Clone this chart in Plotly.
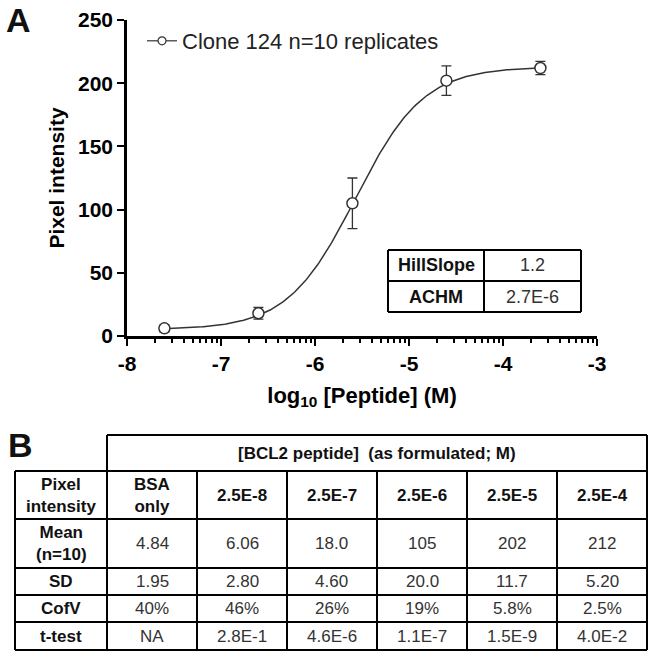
import numpy as np
import plotly.graph_objects as go

W, H = 652, 655
FONT = "Liberation Sans, Arial, sans-serif"

# ---------------- data ----------------
SERIES_NAME = "Clone 124 n=10 replicates"
CONC_LABELS = ["BSA<br>only", "2.5E-8", "2.5E-7", "2.5E-6", "2.5E-5", "2.5E-4"]
CONC_M = [None, 2.5e-8, 2.5e-7, 2.5e-6, 2.5e-5, 2.5e-4]
MEAN = [4.84, 6.06, 18.0, 105, 202, 212]
SD = [1.95, 2.80, 4.60, 20.0, 11.7, 5.20]
CV_LABELS = ["40%", "46%", "26%", "19%", "5.8%", "2.5%"]
TTEST_LABELS = ["NA", "2.8E-1", "4.6E-6", "1.1E-7", "1.5E-9", "4.0E-2"]
ROW_LABELS = ["Pixel<br>intensity", "Mean<br>(n=10)", "SD", "CofV", "t-test"]
HEADER_LABEL = "[BCL2 peptide]\u00a0\u00a0(as formulated; M)"
X_TICKS = [-8, -7, -6, -5, -4, -3]
X_TICK_LABELS = ["-8", "-7", "-6", "-5", "-4", "-3"]
Y_TICKS = [0, 50, 100, 150, 200, 250]
# fitted sigmoid parameters (shown in the inset table; bottom/top)
HILL_SLOPE = 1.2
ACHM = 2.7e-6
FIT_BOTTOM = 5.0
FIT_TOP = 213.0
INSET_ROWS = [("HillSlope", "1.2"), ("ACHM", "2.7E-6")]


def sig3(v):
    d = max(0, 2 - int(np.floor(np.log10(abs(v)))))
    return f"{v:.{d}f}"


def PX(x):
    return x / W


def PY(y):
    return 1 - y / H


# plotted points (BSA-only control is not on the concentration axis)
x_pts = [np.log10(c) for c in CONC_M if c is not None]
y_pts = [m for c, m in zip(CONC_M, MEAN) if c is not None]
e_pts = [s for c, s in zip(CONC_M, SD) if c is not None]

x_fit = np.linspace(min(x_pts), max(x_pts), 300)
y_fit = FIT_BOTTOM + (FIT_TOP - FIT_BOTTOM) / (1 + 10 ** ((np.log10(ACHM) - x_fit) * HILL_SLOPE))

minor_vals = [d + np.log10(k) for d in range(-8, -3) for k in range(2, 10)]

fig = go.Figure()
fig.add_trace(go.Scatter(x=x_fit, y=y_fit, mode="lines", line=dict(color="#333", width=1.5),
                         showlegend=False, hoverinfo="skip"))
fig.add_trace(go.Scatter(
    x=x_pts, y=y_pts, mode="markers", showlegend=False,
    marker=dict(symbol="circle", size=11, color="white", line=dict(color="#333", width=1.5)),
    error_y=dict(type="data", array=e_pts, thickness=1.3, width=5, color="#333"),
))
# legend entry
fig.add_trace(go.Scatter(
    x=[None], y=[None], mode="lines+markers", name=SERIES_NAME,
    line=dict(color="#333", width=1.2),
    marker=dict(symbol="circle", size=8, color="white", line=dict(color="#333", width=1.2)),
))

shapes = []
annots = []
LW = 2


def line(x0, y0, x1, y1, w=LW):
    shapes.append(dict(type="line", xref="paper", yref="paper", x0=PX(x0), y0=PY(y0),
                       x1=PX(x1), y1=PY(y1), line=dict(color="black", width=w)))


def text(x, y, s, size=17, bold=False, color="#111", xanchor="center", yanchor="middle"):
    annots.append(dict(xref="paper", yref="paper", x=PX(x), y=PY(y), text=s, showarrow=False,
                       xanchor=xanchor, yanchor=yanchor,
                       font=dict(family=FONT, size=size, color=color,
                                 weight="bold" if bold else "normal")))


# inset table
IX0, IX1, IXM = 388, 581, 484
IY0, IY1 = 250, 312
IYM = (IY0 + IY1) / 2
line(IX0, IY0, IX1, IY0); line(IX0, IY1, IX1, IY1); line(IX0, IYM, IX1, IYM)
line(IX0, IY0, IX0, IY1); line(IX1, IY0, IX1, IY1); line(IXM, IY0, IXM, IY1)
for i, (k, v) in enumerate(INSET_ROWS):
    yc = IY0 + (i + 0.5) * (IY1 - IY0) / 2
    text((IX0 + IXM) / 2, yc, k, size=18, bold=True)
    text((IXM + IX1) / 2, yc, v, size=18, color="#333")

# bottom table
TL, TC0, TR = 15, 107, 647
ROW_Y = [435, 471, 519, 568, 595, 622, 650]
ncol = len(CONC_LABELS)
cw = (TR - TC0) / ncol
col_edges = [TC0 + i * cw for i in range(ncol + 1)]
# header box
line(TC0, ROW_Y[0], TR, ROW_Y[0]); line(TC0, ROW_Y[0], TC0, ROW_Y[1]); line(TR, ROW_Y[0], TR, ROW_Y[1])
for y in ROW_Y[1:]:
    line(TL, y, TR, y)
line(TL, ROW_Y[1], TL, ROW_Y[-1])
for xe in col_edges:
    line(xe, ROW_Y[1], xe, ROW_Y[-1])
text((TC0 + TR) / 2, (ROW_Y[0] + ROW_Y[1]) / 2, HEADER_LABEL, size=17, bold=True)

rows = [CONC_LABELS, [sig3(v) for v in MEAN], [sig3(v) for v in SD], CV_LABELS, TTEST_LABELS]
for r, (lab, vals) in enumerate(zip(ROW_LABELS, rows)):
    yc = (ROW_Y[r + 1] + ROW_Y[r + 2]) / 2
    text((TL + TC0) / 2, yc, lab, size=17, bold=True)
    for c, v in enumerate(vals):
        xc = (col_edges[c] + col_edges[c + 1]) / 2
        if r == 0:
            text(xc, yc, v, size=17, bold=True)
        else:
            text(xc, yc, v, size=17, color="#333")

# panel letters
text(4, 20, "A", size=34, bold=True, xanchor="left")
text(6, 445, "B", size=34, bold=True, xanchor="left")

axis_common = dict(showline=True, linewidth=2.5, linecolor="black", ticks="outside", ticklen=7,
                   tickwidth=2, tickcolor="black", showgrid=False, zeroline=False, automargin=False,
                   tickfont=dict(family=FONT, size=21, color="black", weight="bold"))

fig.update_layout(
    width=W, height=H, margin=dict(l=0, r=0, t=0, b=0, autoexpand=False),
    paper_bgcolor="white", plot_bgcolor="white",
    xaxis=dict(range=[-8, -3], domain=[PX(127), PX(597)], tickmode="array", tickvals=X_TICKS,
               ticktext=X_TICK_LABELS,
               minor=dict(tickmode="array", tickvals=minor_vals, ticks="outside", ticklen=4,
                          tickwidth=2, tickcolor="black"),
               title=dict(text="log<sub>10</sub> [Peptide] (M)", standoff=14,
                          font=dict(family=FONT, size=22, color="black", weight="bold")),
               **axis_common),
    yaxis=dict(range=[0, 250], domain=[PY(336), PY(20)], tickmode="array", tickvals=Y_TICKS,
               title=dict(text="Pixel intensity", standoff=8,
                          font=dict(family=FONT, size=21, color="black", weight="bold")),
               **axis_common),
    legend=dict(x=PX(142), y=PY(41), xanchor="left", yanchor="middle", bgcolor="rgba(0,0,0,0)",
                font=dict(family=FONT, size=22, color="#222"), itemwidth=30),
    shapes=shapes, annotations=annots,
)

fig.write_html(
    "out.html",
    config={"displayModeBar": False},
    post_script="document.body.style.margin='0';document.body.style.overflow='hidden';",
)
